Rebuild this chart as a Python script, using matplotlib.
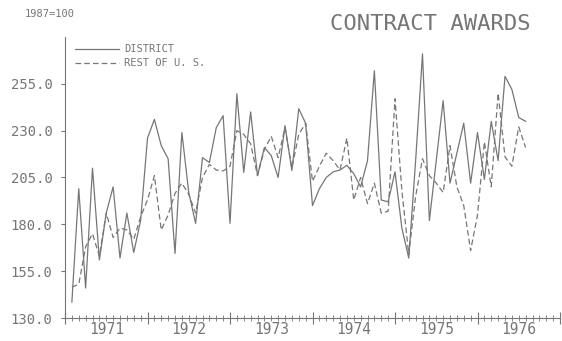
import numpy as np
import matplotlib
matplotlib.use('Agg')
import matplotlib.pyplot as plt
from matplotlib.transforms import blended_transform_factory

# Monthly index, 1987=100, Feb 1971 .. Aug 1976
district = [138.5, 199, 146, 210, 161, 186, 200, 162, 186, 165, 182, 226,
            236, 222, 215, 164.5, 229, 197, 180.5, 215.6, 213, 231.6, 238, 180.5,
            249.7, 207.7, 240, 206, 221, 216.7, 205, 232.7, 208.7, 241.7, 234, 190,
            199, 205, 208, 209, 211.5, 207, 200, 214, 262, 193, 192, 208,
            178, 162, 214, 271, 182, 214, 246, 202, 218, 234, 202, 229,
            204, 235, 214, 259, 252, 237, 235]
rest_of_us = [146.5, 148, 168, 175, 163, 186, 173, 178, 177, 172, 184, 193,
              206, 177, 185, 196.5, 202, 196, 186, 205, 212, 209, 208.5, 211,
              230, 228, 223, 206, 220, 227, 215.6, 231.6, 210, 228, 234, 203,
              211, 218, 214, 209, 226, 193, 205, 191, 202, 186, 187, 247,
              198, 164, 195, 215, 206, 202, 197, 222, 200, 190, 166, 185,
              224, 200, 250, 216, 211, 232, 221]
years = [1971, 1972, 1973, 1974, 1975, 1976]
y_ticks = [130, 155, 180, 205, 230, 255]

ink = '#767676'
mono = 'DejaVu Sans Mono'

months = 1971 + np.arange(1, len(district) + 1) / 12.0

fig = plt.figure(figsize=(5.62, 3.41), dpi=100)
ax = fig.add_axes([65 / 562, 1 - 318 / 341, 495 / 562, 281 / 341])

ax.plot(months, district, color=ink, linewidth=0.9)
ax.plot(months, rest_of_us, color=ink, linewidth=0.9, linestyle=(0, (4.5, 2.5)))

ax.set_xlim(1971, 1977)
ax.set_ylim(130, 280)

for side in ['top', 'right']:
  ax.spines[side].set_visible(False)
for side in ['left', 'bottom']:
  ax.spines[side].set_color(ink)
  ax.spines[side].set_linewidth(0.8)

ax.set_yticks(y_ticks)
ax.set_yticklabels([f"{v:.1f}" for v in y_ticks], family=mono, fontsize=10, color=ink)
ax.tick_params(axis='y', direction='out', length=3, color=ink, pad=6)

ax.set_xticks(years + [1977])
ax.set_xticklabels([])
ax.set_xticks(1971 + np.arange(0, 73) / 12.0, minor=True)
ax.tick_params(axis='x', which='major', direction='inout', length=9, color=ink, width=0.8)
ax.tick_params(axis='x', which='minor', direction='inout', length=5, color=ink, width=0.6)

trans = blended_transform_factory(ax.transData, ax.transAxes)
for yr in years:
  ax.text(yr + 0.5, -0.042, str(yr), transform=trans, ha='center', va='center',
          family=mono, fontsize=10.5, color=ink)

# legend drawn by hand like the plotter did
ax.plot([1971.12, 1971.66], [0.957, 0.957], transform=trans, color=ink, linewidth=0.9)
ax.plot([1971.12, 1971.66], [0.907, 0.907], transform=trans, color=ink, linewidth=0.9,
        linestyle=(0, (4.5, 2.5)))
ax.text(1971.72, 0.957, 'DISTRICT', transform=trans, va='center', family=mono,
        fontsize=7.5, color=ink)
ax.text(1971.72, 0.907, 'REST OF U. S.', transform=trans, va='center', family=mono,
        fontsize=7.5, color=ink)

fig.text(25 / 562, 1 - 14 / 341, '1987=100', va='center', ha='left', family=mono,
         fontsize=7.5, color=ink)
fig.text(430 / 562, 1 - 24 / 341, 'CONTRACT AWARDS', va='center', ha='center',
         family=mono, fontsize=16, color=ink)

fig.savefig('out.png', dpi=100)
